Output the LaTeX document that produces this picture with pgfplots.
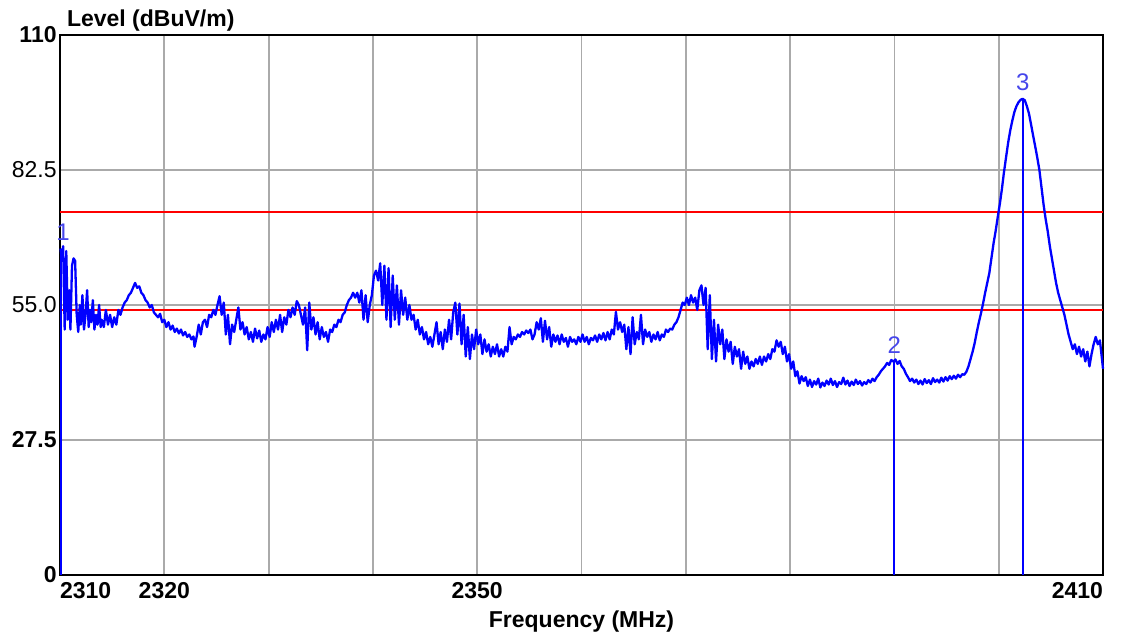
\documentclass[border=0pt]{standalone}
\usepackage{fontspec}
\setmainfont{Liberation Sans}
\usepackage{pgfplots}
\usepackage{pgfplotstable}
\pgfplotsset{compat=1.18}
\definecolor{tracebl}{RGB}{0,0,255}
\definecolor{limitred}{RGB}{255,0,0}
\definecolor{gridgray}{RGB}{170,170,170}
\definecolor{mkrbl}{RGB}{70,70,235}

% measured level trace (MHz, dBuV/m)
\pgfplotstableread{
f L
2310.05 66.5
2310.2 64
2310.3 67
2310.45 50
2310.6 66
2310.75 52
2310.9 58
2311.0 50
2311.15 63
2311.3 64.5
2311.45 64
2311.6 53
2311.75 49.5
2311.9 55
2312.0 51
2312.15 57
2312.3 50
2312.45 53
2312.6 58
2312.75 50.5
2312.9 54
2313.0 51.5
2313.15 56
2313.3 50
2313.45 53
2313.6 51
2313.75 55
2313.9 50.5
2314.0 52
2314.2 50.5
2314.4 54
2314.6 51
2314.8 53
2315.0 50.5
2315.2 52.5
2315.4 51
2315.6 54
2315.8 53
2316.0 54.5
2316.2 55.5
2316.4 56
2316.6 57
2316.8 57.5
2317.0 58.5
2317.2 59.5
2317.4 58.5
2317.6 58.8
2317.8 57.5
2318.0 57
2318.2 56
2318.4 55.5
2318.6 54.5
2318.8 55
2319.0 53.5
2319.2 53
2319.4 52.5
2319.6 53.2
2319.8 51.5
2320.0 52
2320.2 50.5
2320.4 51.5
2320.6 50
2320.8 50.8
2321.0 49.5
2321.2 50.2
2321.4 49.2
2321.6 50
2321.8 48.8
2322.0 49.5
2322.2 48.5
2322.4 49
2322.6 48
2322.8 48.6
2322.9 46.5
2323.1 48.5
2323.3 51
2323.5 49
2323.7 51.5
2323.9 52
2324.1 50.5
2324.3 53
2324.5 52.5
2324.7 54
2324.9 53
2325.1 55
2325.3 56.8
2325.5 53
2325.7 55.5
2325.9 49
2326.1 53
2326.3 47
2326.5 51
2326.7 49.5
2326.9 52
2327.1 54.5
2327.3 50
2327.5 51.5
2327.7 49
2327.9 50.5
2328.1 48
2328.3 49.5
2328.5 47.5
2328.7 50.2
2328.9 48.2
2329.1 49.8
2329.3 47.5
2329.5 49
2329.7 48
2329.9 50.5
2330.1 48.5
2330.3 51.5
2330.5 49.5
2330.7 52
2330.9 50
2331.1 53
2331.3 49.5
2331.5 52.5
2331.7 51
2331.9 54
2332.1 52.5
2332.3 54.5
2332.5 53
2332.7 55.8
2332.9 55
2333.1 53
2333.3 51
2333.5 54.5
2333.7 45.8
2333.9 55.5
2334.1 50
2334.3 52.5
2334.5 49
2334.7 51.5
2334.9 48
2335.1 50.5
2335.3 48.5
2335.5 49.5
2335.7 47.5
2335.9 50
2336.1 49.5
2336.3 51
2336.5 50.5
2336.7 52
2336.9 51.5
2337.1 53
2337.3 53.5
2337.5 55
2337.7 56
2337.9 56.5
2338.1 57.5
2338.3 56.5
2338.5 57.5
2338.7 55.5
2338.9 58
2339.1 52
2339.3 57
2339.5 51.5
2339.7 55
2339.9 57
2340.1 61
2340.3 62
2340.5 60
2340.7 63.5
2340.9 55
2341.1 63
2341.3 52
2341.5 62.5
2341.7 50.5
2341.9 61
2342.1 52
2342.3 59
2342.5 51
2342.7 58
2342.9 53
2343.1 56.5
2343.3 52
2343.5 55
2343.7 52
2343.9 53
2344.1 50
2344.3 52
2344.5 49
2344.7 50.5
2344.9 48
2345.1 49.5
2345.3 47
2345.5 48.5
2345.7 46.5
2345.9 49
2346.1 51.5
2346.3 47
2346.5 49.5
2346.7 46
2346.9 50
2347.1 47.5
2347.3 52
2347.5 48
2347.7 53.5
2347.9 55.5
2348.1 49
2348.3 55.3
2348.5 47
2348.7 53
2348.9 44.5
2349.1 50.5
2349.3 44
2349.5 49
2349.7 46
2349.9 50
2350.1 47
2350.3 49
2350.5 45
2350.7 48
2350.9 45.5
2351.1 47
2351.3 44.5
2351.5 46.5
2351.7 45
2351.9 47
2352.1 44.5
2352.3 46
2352.5 44.5
2352.7 46.5
2352.9 45.5
2353.1 50.5
2353.3 47
2353.5 48.5
2353.7 48
2353.9 49
2354.1 48.5
2354.3 49.5
2354.5 49
2354.7 49.8
2354.9 49.3
2355.1 50
2355.3 48
2355.5 49
2355.7 51.5
2355.9 50
2356.1 52.3
2356.3 47.5
2356.5 51.8
2356.7 48
2356.9 50.5
2357.1 46.5
2357.3 49
2357.5 47.5
2357.7 48.8
2357.9 47
2358.1 49
2358.3 47.5
2358.5 48.3
2358.7 46.5
2358.9 48.5
2359.1 47.5
2359.3 48
2359.5 47
2359.7 48.5
2359.9 47.5
2360.1 49
2360.3 47.5
2360.5 48.5
2360.7 47
2360.9 48.3
2361.1 47.8
2361.3 48.8
2361.5 47.5
2361.7 49
2361.9 48
2362.1 49.3
2362.3 47.8
2362.5 49.5
2362.7 48
2362.9 50
2363.1 49
2363.3 53.6
2363.5 50
2363.7 51.5
2363.9 49.5
2364.1 51
2364.3 46
2364.5 50.5
2364.7 45
2364.9 52.5
2365.1 47
2365.3 49.5
2365.5 48
2365.7 53
2365.9 47
2366.1 50
2366.3 48.5
2366.5 49.5
2366.7 47.5
2366.9 49
2367.1 48
2367.3 49.5
2367.5 47.8
2367.7 49
2367.9 48.5
2368.1 50
2368.3 49.5
2368.5 50.2
2368.7 50
2368.9 51
2369.1 51.5
2369.3 52.5
2369.5 54
2369.7 55.5
2369.9 55
2370.1 56.5
2370.3 55
2370.5 57
2370.7 55.5
2370.9 56.5
2371.1 54
2371.3 58
2371.5 59
2371.7 55
2371.9 58.5
2372.1 46
2372.3 57
2372.5 44
2372.7 52
2372.9 43.5
2373.1 51
2373.3 47
2373.5 50
2373.7 44
2373.9 48
2374.1 45.5
2374.3 47.5
2374.5 43
2374.7 46.5
2374.9 44.5
2375.1 46
2375.3 42
2375.5 45.5
2375.7 43
2375.9 44.5
2376.1 42
2376.3 43.5
2376.5 42.5
2376.7 44
2376.9 43
2377.1 44.5
2377.3 42.8
2377.5 44.5
2377.7 43.5
2377.9 45
2378.1 44
2378.3 46
2378.5 45.5
2378.7 47.8
2378.9 46.5
2379.1 47.5
2379.3 45
2379.5 46.5
2379.7 43.5
2379.9 45
2380.1 42
2380.3 43.5
2380.5 40.5
2380.7 41.5
2380.9 39
2381.1 40.5
2381.3 39.5
2381.5 40.3
2381.7 38.5
2381.9 39.8
2382.1 38.3
2382.3 39.5
2382.5 38.8
2382.7 40
2382.9 38.2
2383.1 39.2
2383.3 38.5
2383.5 39.6
2383.7 38.8
2383.9 40
2384.1 38.7
2384.3 39.5
2384.5 38.3
2384.7 39.3
2384.9 38.9
2385.1 40.2
2385.3 38.8
2385.5 39.6
2385.7 38.5
2385.9 39.4
2386.1 38.7
2386.3 39.8
2386.5 38.9
2386.7 39.5
2386.9 38.6
2387.1 39.3
2387.3 38.9
2387.5 39.7
2387.7 39.2
2387.9 40
2388.1 39.5
2388.3 40.3
2388.5 40.8
2388.7 41.5
2388.9 42
2389.1 42.5
2389.3 43.2
2389.5 42.8
2389.7 43.8
2389.9 43.5
2390.1 43.9
2390.3 43
2390.5 43.6
2390.7 42.5
2390.9 42
2391.1 41
2391.3 40.3
2391.5 39.5
2391.7 40
2391.9 39.2
2392.1 39.8
2392.3 38.9
2392.5 39.6
2392.7 38.8
2392.9 39.9
2393.1 39.1
2393.3 39.7
2393.5 38.9
2393.7 40.1
2393.9 39.3
2394.1 39.8
2394.3 39.2
2394.5 40.2
2394.7 39.4
2394.9 40.3
2395.1 39.6
2395.3 40.5
2395.5 39.9
2395.7 40.6
2395.9 40
2396.1 40.8
2396.3 40.3
2396.5 40.9
2396.7 40.8
2396.9 41.4
2397.1 42.5
2397.3 44
2397.5 45.5
2397.7 47.3
2397.9 49.5
2398.1 51.5
2398.3 53.3
2398.5 55.3
2398.7 57.5
2398.9 59.5
2399.1 61.5
2399.3 64.5
2399.5 67.5
2399.7 70
2399.9 72.8
2400.1 75.5
2400.3 78.5
2400.5 82
2400.7 85
2400.9 88
2401.1 90.5
2401.3 92.5
2401.5 94.3
2401.7 95.5
2401.9 96.3
2402.1 96.8
2402.3 97
2402.5 96.7
2402.7 95.5
2402.9 94
2403.1 91.8
2403.3 89.5
2403.5 87.3
2403.7 85
2403.9 82.5
2404.1 79
2404.3 75.5
2404.5 72.5
2404.7 70
2404.9 67
2405.1 64.5
2405.3 62
2405.5 59.5
2405.7 57.5
2405.9 56
2406.1 54.5
2406.3 53
2406.5 51
2406.7 49
2406.9 47.5
2407.1 46
2407.3 47
2407.5 45
2407.7 46.5
2407.9 44.5
2408.1 46
2408.3 43.5
2408.5 45.5
2408.7 42.5
2408.9 45
2409.1 47
2409.3 48.5
2409.5 47
2409.7 47.8
2409.9 44
2410.0 42
}\trace

\begin{document}
\begin{tikzpicture}
\path[use as bounding box] (-30pt,-32pt) rectangle (537pt,287.5pt);
\begin{axis}[
    at={(0,0)}, anchor=south west,
    scale only axis,
    width=521.5pt, height=270pt,
    xmin=2310, xmax=2410, ymin=0, ymax=110,
    xtick={2310,2320,2330,2340,2350,2360,2370,2380,2390,2400,2410},
    xticklabels={\rlap{2310},2320,,,2350,,,,,,\llap{2410}},
    ytick={0,27.5,55,82.5,110},
    yticklabels={\textbf{0},\textbf{27.5},55.0,82.5,\textbf{110}},
    major tick length=0pt,
    grid=major,
    major grid style={gridgray, line width=0.9pt},
    axis line style={black, line width=1pt},
    yticklabel style={font=\fontsize{11.5}{13}\selectfont, inner sep=1.5pt},
    xticklabel style={font=\fontsize{11.5}{13}\selectfont\bfseries},
    xlabel={Frequency (MHz)},
    xlabel style={font=\fontsize{11.5}{13}\selectfont\bfseries,
        at={(axis description cs:0.5,-0.087)}, anchor=center},
    clip=false,
]
% limit lines
\addplot[limitred, line width=1pt] coordinates {(2310,74) (2410,74)};
\addplot[limitred, line width=1pt] coordinates {(2310,54) (2410,54)};
% trace
\addplot[tracebl, line width=1.15pt, line join=round] table[x=f, y=L] {\trace};
% markers
\addplot[tracebl, line width=0.8pt] coordinates {(2310.1,0) (2310.1,66.5)};
\addplot[tracebl, line width=1pt] coordinates {(2390,0) (2390,43.7)};
\addplot[tracebl, line width=0.8pt] coordinates {(2402.3,0) (2402.3,97)};
\node[mkrbl, font=\fontsize{12}{13}\selectfont] at (axis cs:2310.3,69.8) {1};
\node[mkrbl, font=\fontsize{12}{13}\selectfont] at (axis cs:2390.0,46.9) {2};
\node[mkrbl, font=\fontsize{12}{13}\selectfont] at (axis cs:2402.3,100.3) {3};
\node[anchor=base west, font=\fontsize{11.5}{13}\selectfont\bfseries]
    at (rel axis cs:0,1) [yshift=4.5pt] {Level (dBuV/m)};
\end{axis}
\end{tikzpicture}
\end{document}
